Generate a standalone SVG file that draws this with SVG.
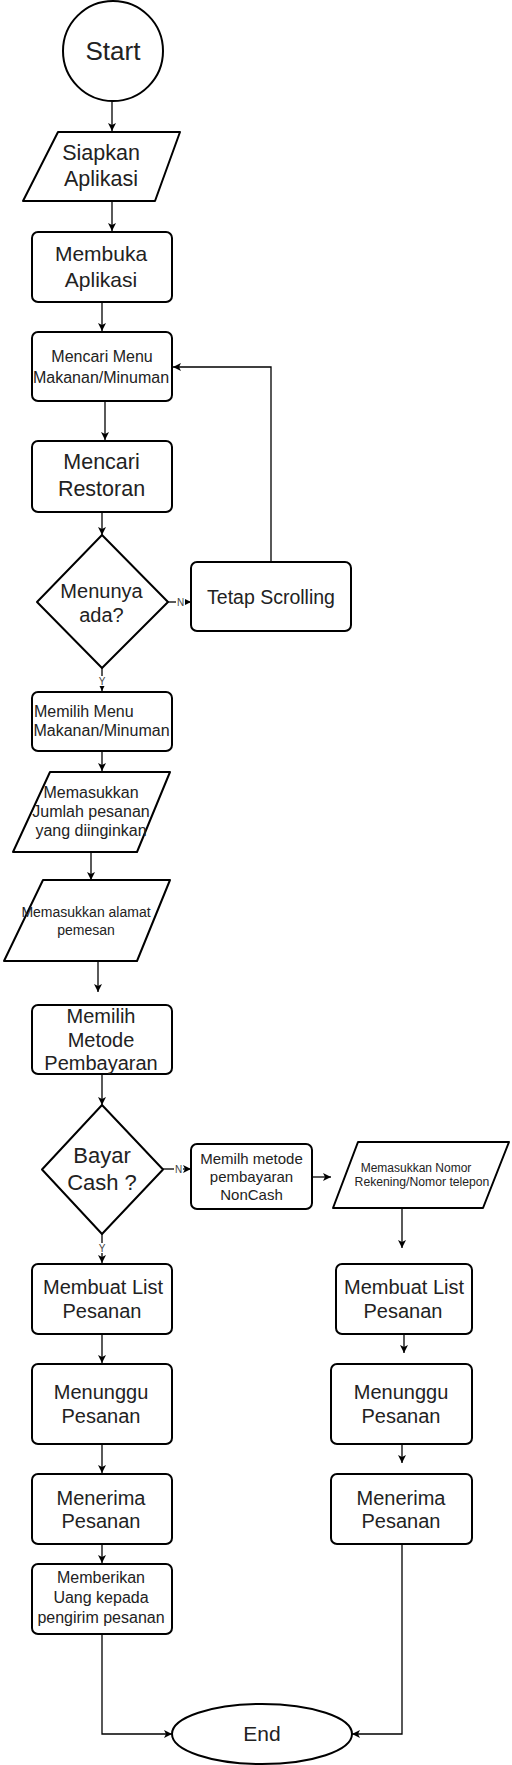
<svg xmlns="http://www.w3.org/2000/svg" width="512" height="1765" viewBox="0 0 512 1765">
<defs>
<marker id="arr" markerUnits="userSpaceOnUse" viewBox="0 0 8 8" refX="8" refY="4" markerWidth="8" markerHeight="8" orient="auto">
<path d="M0,0 L8,4 L0,8 L2,4 z" fill="#000"/>
</marker>
</defs>
<style>
.n{fill:#fff;stroke:#000;stroke-width:2;stroke-linejoin:round}
.c{fill:none;stroke:#000;stroke-width:1.3}
.t{font-family:"Liberation Sans",Arial,sans-serif;fill:#222;text-anchor:middle}
.l{font-family:"Liberation Sans",Arial,sans-serif;fill:#444;text-anchor:middle;font-size:10px}
</style>
<rect width="512" height="1765" fill="#fff"/>
<g id="connectors">
<path class="c" d="M112,101 L112,131" marker-end="url(#arr)"/>
<path class="c" d="M112,201 L112,231" marker-end="url(#arr)"/>
<path class="c" d="M102,302 L102,331" marker-end="url(#arr)"/>
<path class="c" d="M105,401 L105,440" marker-end="url(#arr)"/>
<path class="c" d="M102,512 L102,535" marker-end="url(#arr)"/>
<path class="c" d="M168,602 L191,602" marker-end="url(#arr)"/>
<path class="c" d="M271,562 L271,367 L173,367" marker-end="url(#arr)"/>
<path class="c" d="M102,668 L102,691" marker-end="url(#arr)"/>
<path class="c" d="M102,751 L102,771" marker-end="url(#arr)"/>
<path class="c" d="M91,852 L91,880" marker-end="url(#arr)"/>
<path class="c" d="M98,961 L98,992" marker-end="url(#arr)"/>
<path class="c" d="M102,1074 L102,1105" marker-end="url(#arr)"/>
<path class="c" d="M163,1169 L191,1169" marker-end="url(#arr)"/>
<path class="c" d="M312,1177 L331,1177" marker-end="url(#arr)"/>
<path class="c" d="M402,1208 L402,1248" marker-end="url(#arr)"/>
<path class="c" d="M102,1234 L102,1263" marker-end="url(#arr)"/>
<path class="c" d="M102,1334 L102,1363" marker-end="url(#arr)"/>
<path class="c" d="M404,1334 L404,1353" marker-end="url(#arr)"/>
<path class="c" d="M102,1444 L102,1473" marker-end="url(#arr)"/>
<path class="c" d="M402,1444 L402,1463" marker-end="url(#arr)"/>
<path class="c" d="M102,1544 L102,1563" marker-end="url(#arr)"/>
<path class="c" d="M102,1634 L102,1734 L172,1734" marker-end="url(#arr)"/>
<path class="c" d="M402,1544 L402,1734 L352,1734" marker-end="url(#arr)"/>
<rect x="176" y="597" width="9" height="10" fill="#fff"/>
<text class="l" x="180.5" y="605.5">N</text>
<rect x="97" y="676" width="10" height="10" fill="#fff"/>
<text class="l" x="102" y="685">Y</text>
<rect x="174" y="1164" width="9" height="10" fill="#fff"/>
<text class="l" x="178.5" y="1172.5">N</text>
<rect x="97" y="1243" width="10" height="10" fill="#fff"/>
<text class="l" x="102" y="1252">Y</text>
</g>
<g id="start">
<circle class="n" cx="113" cy="51" r="50"/>
<text class="t" x="113" y="60" font-size="26">Start</text>
</g>
<g id="siapkan">
<polygon class="n" points="58,132 180,132 155,201 23,201"/>
<text class="t" x="101" y="160" font-size="21.5">Siapkan</text>
<text class="t" x="101" y="186" font-size="21.5">Aplikasi</text>
</g>
<g id="membuka">
<rect class="n" x="32" y="232" width="140" height="70" rx="6"/>
<text class="t" x="101" y="261" font-size="21">Membuka</text>
<text class="t" x="101" y="287" font-size="21">Aplikasi</text>
</g>
<g id="mencari-menu">
<rect class="n" x="32" y="332" width="140" height="69" rx="6"/>
<text class="t" x="102" y="361.5" font-size="16">Mencari Menu</text>
<text class="t" x="101" y="382.5" font-size="16">Makanan/Minuman</text>
</g>
<g id="mencari-restoran">
<rect class="n" x="32" y="441" width="140" height="71" rx="6"/>
<text class="t" x="101.5" y="469" font-size="21.5">Mencari</text>
<text class="t" x="101.5" y="496" font-size="21.5">Restoran</text>
</g>
<g id="menunya">
<polygon class="n" points="102,535 168,602 102,668 37,602"/>
<text class="t" x="101.5" y="598" font-size="20">Menunya</text>
<text class="t" x="101.5" y="622" font-size="20">ada?</text>
</g>
<g id="tetap-scrolling">
<rect class="n" x="191" y="562" width="160" height="69" rx="6"/>
<text class="t" x="271" y="604" font-size="19.5">Tetap Scrolling</text>
</g>
<g id="memilih-menu">
<rect class="n" x="32" y="692" width="140" height="59" rx="6"/>
<text class="t" x="34" y="716.5" font-size="16" style="text-anchor:start">Memilih Menu</text>
<text class="t" x="101.5" y="736" font-size="16">Makanan/Minuman</text>
</g>
<g id="jumlah">
<polygon class="n" points="50,772 170,772 137,852 13,852"/>
<text class="t" x="91" y="798" font-size="16">Memasukkan</text>
<text class="t" x="91" y="817" font-size="16">Jumlah pesanan</text>
<text class="t" x="91" y="836" font-size="16">yang diinginkan</text>
</g>
<g id="alamat">
<polygon class="n" points="43,880 170,880 137,961 4,961"/>
<text class="t" x="86" y="917" font-size="14">Memasukkan alamat</text>
<text class="t" x="86" y="935" font-size="14">pemesan</text>
</g>
<g id="metode">
<rect class="n" x="32" y="1005" width="140" height="69" rx="6"/>
<text class="t" x="101" y="1023" font-size="20">Memilih</text>
<text class="t" x="101" y="1047" font-size="20">Metode</text>
<text class="t" x="101" y="1070" font-size="20">Pembayaran</text>
</g>
<g id="bayar-cash">
<polygon class="n" points="102,1105 163,1169.5 102,1234 42,1169.5"/>
<text class="t" x="102" y="1163" font-size="22">Bayar</text>
<text class="t" x="102" y="1190" font-size="22">Cash ?</text>
</g>
<g id="noncash">
<rect class="n" x="191" y="1144" width="121" height="65" rx="6"/>
<text class="t" x="251.5" y="1164" font-size="15">Memilh metode</text>
<text class="t" x="251.5" y="1182" font-size="15">pembayaran</text>
<text class="t" x="251.5" y="1200" font-size="15">NonCash</text>
</g>
<g id="nomor">
<polygon class="n" points="358,1142 509,1142 483,1208 333,1208"/>
<text class="t" x="416" y="1171.5" font-size="12">Memasukkan Nomor</text>
<text class="t" x="422" y="1186" font-size="12.2">Rekening/Nomor telepon</text>
</g>
<g id="list-left">
<rect class="n" x="32" y="1264" width="140" height="70" rx="6"/>
<text class="t" x="103" y="1294" font-size="20">Membuat List</text>
<text class="t" x="102" y="1318" font-size="20">Pesanan</text>
</g>
<g id="list-right">
<rect class="n" x="336" y="1264" width="136" height="70" rx="6"/>
<text class="t" x="404" y="1294" font-size="20">Membuat List</text>
<text class="t" x="403" y="1318" font-size="20">Pesanan</text>
</g>
<g id="menunggu-left">
<rect class="n" x="32" y="1364" width="140" height="80" rx="6"/>
<text class="t" x="101" y="1399" font-size="20">Menunggu</text>
<text class="t" x="101" y="1423" font-size="20">Pesanan</text>
</g>
<g id="menunggu-right">
<rect class="n" x="331" y="1364" width="141" height="80" rx="6"/>
<text class="t" x="401" y="1399" font-size="20">Menunggu</text>
<text class="t" x="401" y="1423" font-size="20">Pesanan</text>
</g>
<g id="menerima-left">
<rect class="n" x="32" y="1474" width="140" height="70" rx="6"/>
<text class="t" x="101" y="1505" font-size="20">Menerima</text>
<text class="t" x="101" y="1528" font-size="20">Pesanan</text>
</g>
<g id="menerima-right">
<rect class="n" x="331" y="1474" width="141" height="70" rx="6"/>
<text class="t" x="401" y="1505" font-size="20">Menerima</text>
<text class="t" x="401" y="1528" font-size="20">Pesanan</text>
</g>
<g id="memberikan">
<rect class="n" x="32" y="1564" width="140" height="70" rx="6"/>
<text class="t" x="101" y="1583" font-size="16">Memberikan</text>
<text class="t" x="101" y="1603" font-size="16">Uang kepada</text>
<text class="t" x="101" y="1623" font-size="16">pengirim pesanan</text>
</g>
<g id="end">
<ellipse class="n" cx="262" cy="1734" rx="90" ry="30"/>
<text class="t" x="262" y="1741" font-size="21">End</text>
</g>
</svg>
